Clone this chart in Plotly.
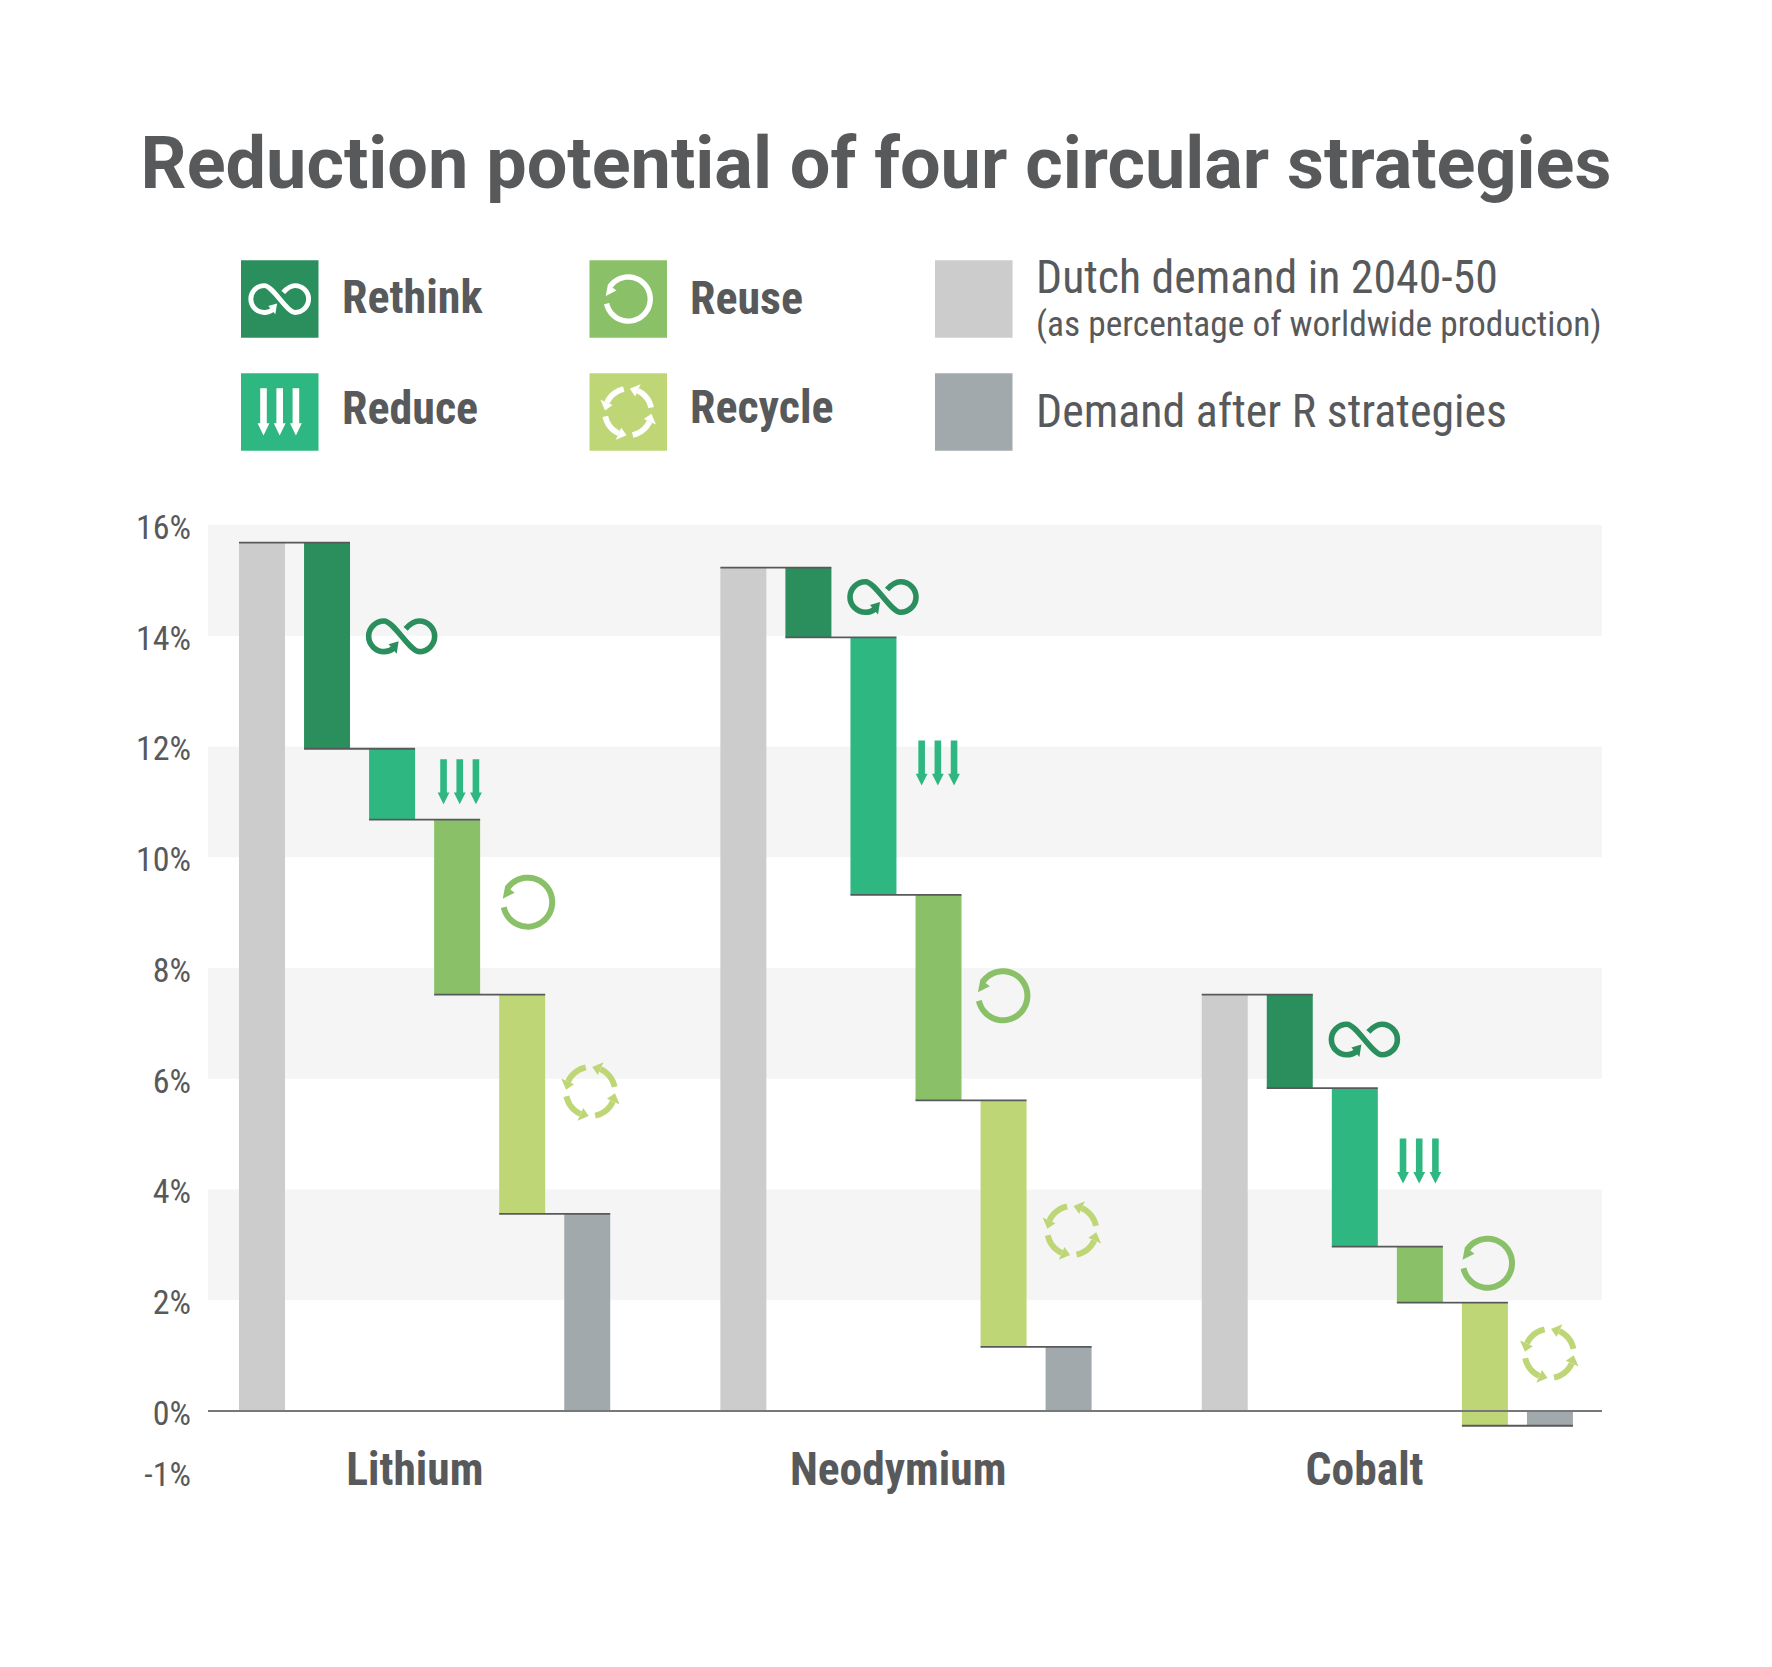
import numpy as np
import plotly.graph_objects as go

# values, percent of worldwide production
materials = ["Lithium", "Neodymium", "Cobalt"]
demand = [15.68, 15.23, 7.52]
rethink = [3.72, 1.26, 1.69]
reduce_ = [1.28, 4.65, 2.86]
reuse = [3.16, 3.71, 1.01]
recycle = [3.96, 4.45, 2.225]
after = [3.56, 1.16, -0.265]

# where the little icons sit on the value axis
rethink_icon_y = [13.99, 14.70, 6.71]
reduce_icon_y = [11.36, 11.70, 4.51]
reuse_icon_y = [9.19, 7.50, 2.67]
recycle_icon_y = [5.77, 3.26, 1.04]

# the -1% label hangs a little below its true spot in the original
y_ticks = [-1.1, 0, 2, 4, 6, 8, 10, 12, 14, 16]
y_tick_labels = ["-1%", "0%", "2%", "4%", "6%", "8%", "10%", "12%", "14%", "16%"]
bands = [(14, 16), (10, 12), (6, 8), (2, 4)]

DARK_GREEN = "#2a8f5d"
GREEN = "#2eb780"
MID_GREEN = "#8ac168"
LIME = "#bfd677"
LIGHT_GREY = "#cccccc"
SLATE = "#a2a9ac"
TEXT = "#58595b"
COND = "Roboto Condensed"

# page pixels; the browser puts the plot 8px in from the corner
PAGE = 8
W, H = 1772 - 2 * PAGE, 1667 - 2 * PAGE
LEFT, RIGHT, TOP, BOTTOM = 208, 1602, 524.7, 1471.9


def px_x(x):
    return (x - LEFT) / (RIGHT - LEFT)


def px_y(y):
    return (BOTTOM - y) / (BOTTOM - TOP)


group_start = [0, 7.4, 14.8]
label_x = [2.35, 9.78, 16.95]
bar_width = 0.707
# icon distance from its bar, in slots
rethink_dx = [1.147, 1.147, 1.147]
reduce_dx = [1.04, 0.99, 0.99]
reuse_dx = [1.085, 0.99, 1.04]
recycle_dx = [1.05, 1.05, 0.99]


def slot(group, i):
    return group_start[group] + i


fig = go.Figure()

# waterfall: each step hangs from the level left by the one before
steps = [rethink, reduce_, reuse, recycle]
colors = [DARK_GREEN, GREEN, MID_GREEN, LIME]
names = ["Rethink", "Reduce", "Reuse", "Recycle"]

fig.add_bar(x=[slot(g, 0) for g in range(3)], y=demand, width=bar_width,
            marker=dict(color=LIGHT_GREY, line_width=0), name="Dutch demand")

levels = [list(demand)]
for k, step in enumerate(steps):
    top = levels[-1]
    low = [t - s for t, s in zip(top, step)]
    fig.add_bar(x=[slot(g, k + 1) for g in range(3)], y=step, base=low, width=bar_width,
                marker=dict(color=colors[k], line_width=0), name=names[k])
    levels.append(low)

fig.add_bar(x=[slot(g, 5) for g in range(3)], y=after, width=bar_width,
            marker=dict(color=SLATE, line_width=0), name="Demand after R strategies")

# connectors
cx, cy = [], []
for g in range(3):
    for k, level in enumerate(levels):
        cx += [slot(g, k) - bar_width / 2, slot(g, k + 1) + bar_width / 2, None]
        cy += [level[g], level[g], None]
fig.add_scatter(x=cx, y=cy, mode="lines", line=dict(color=TEXT, width=1.8), hoverinfo="skip")

for lo, hi in bands:
    fig.add_shape(type="rect", xref="paper", yref="y", x0=0, x1=1, y0=lo, y1=hi,
                  fillcolor="#f5f5f5", line_width=0, layer="below")
fig.add_shape(type="line", xref="paper", yref="y", x0=0, x1=1, y0=0, y1=0,
              line=dict(color="#77787a", width=2))


def arc(r, a0, a1, n=24):
    t = np.radians(np.linspace(a0, a1, n))
    return [(r * np.cos(v), r * np.sin(v)) for v in t]


def to_path(points, close=False):
    s = "M" + " L".join(f"{x:.2f},{y:.2f}" for x, y in points)
    return s + (" Z" if close else "")


def curve(segments, s):
    out = ""
    for cmd, pts in segments:
        out += cmd + " ".join(f"{x * s:.2f},{y * s:.2f}" for x, y in pts) + " "
    return out


def icon(kind, color, x, y, xref, yref, s=1.0, tall=1.0):
    strokes, fills = [], []
    width = 6 * s
    if kind == "rethink":
        width = 5.6 * s
        strokes.append(curve([
            ("M", [(4, 7.5)]),
            ("C", [(8, 12), (12, 15.3), (17.5, 15.3)]),
            ("C", [(26, 15.3), (33, 8.5), (33, 0)]),
            ("C", [(33, -8.5), (26, -15.3), (17.5, -15.3)]),
            ("C", [(8, -15.3), (-8, 15.3), (-17.5, 15.3)]),
            ("C", [(-26, 15.3), (-33, 8.5), (-33, 0)]),
            ("C", [(-33, -8.5), (-26, -15.3), (-17.5, -15.3)]),
            ("C", [(-13.5, -15.3), (-10.5, -14), (-8, -12)]),
        ], s))
        fills.append(to_path([(-3 * s, -5 * s), (-13 * s, -8 * s), (-5 * s, -17.5 * s)], True))
    elif kind == "reduce":
        for dx in (-16.2, 0, 16.2):
            fills.append(to_path([(dx - 3.3, 22.7 * tall), (dx + 3.3, 22.7 * tall), (dx + 3.3, -10.6 * tall),
                                  (dx + 5.9, -10.6 * tall), (dx, -22.3 * tall), (dx - 5.9, -10.6 * tall),
                                  (dx - 3.3, -10.6 * tall)], True))
    elif kind == "reuse":
        strokes.append(to_path([(p * s, q * s) for p, q in arc(24.5, 192, 505, 60)]))
        fills.append(to_path([(-25 * s, 3.5 * s), (-22.5 * s, 16.5 * s), (-13 * s, 9.5 * s)], True))
    elif kind == "recycle":
        for rot in (0, 90, 180, 270):
            strokes.append(to_path([(p * s, q * s) for p, q in arc(24.5, 11 + rot, 66 + rot, 14)]))
            a, b = np.radians(86 + rot), np.radians(66 + rot)
            fills.append(to_path([(24.5 * s * np.cos(a), 24.5 * s * np.sin(a)),
                                  (18 * s * np.cos(b), 18 * s * np.sin(b)),
                                  (32 * s * np.cos(b), 32 * s * np.sin(b))], True))
    for p in strokes:
        fig.add_shape(type="path", path=p, xref=xref, yref=yref, xsizemode="pixel", ysizemode="pixel",
                      xanchor=x, yanchor=y, line=dict(color=color, width=width),
                      fillcolor="rgba(0,0,0,0)")
    for p in fills:
        fig.add_shape(type="path", path=p, xref=xref, yref=yref, xsizemode="pixel", ysizemode="pixel",
                      xanchor=x, yanchor=y, line_width=0, fillcolor=color)


for g in range(3):
    icon("rethink", DARK_GREEN, slot(g, 1) + rethink_dx[g], rethink_icon_y[g], "x", "y")
    icon("reduce", GREEN, slot(g, 2) + reduce_dx[g], reduce_icon_y[g], "x", "y")
    icon("reuse", MID_GREEN, slot(g, 3) + reuse_dx[g], reuse_icon_y[g], "x", "y")
    icon("recycle", LIME, slot(g, 4) + recycle_dx[g], recycle_icon_y[g], "x", "y")

# legend is drawn by hand, squares + white glyphs
legend_squares = [
    (241, 260, DARK_GREEN, "rethink"), (241, 373, GREEN, "reduce"),
    (589.5, 260, MID_GREEN, "reuse"), (589.5, 373, LIME, "recycle"),
    (935, 260, LIGHT_GREY, None), (935, 373, SLATE, None),
]
for sx, sy, col, kind in legend_squares:
    fig.add_shape(type="rect", xref="paper", yref="paper", x0=px_x(sx), x1=px_x(sx + 77.5),
                  y0=px_y(sy), y1=px_y(sy + 77.5), fillcolor=col, line_width=0)
    if kind:
        scale = {"rethink": 0.875, "reduce": 1.0, "reuse": 0.9, "recycle": 0.95}[kind]
        icon(kind, "white", px_x(sx + 38.7), px_y(sy + 38.7), "paper", "paper", scale, 1.05)


def label(text, x, y, size, bold=False):
    fig.add_annotation(text=text, xref="paper", yref="paper", x=px_x(x), y=px_y(y), showarrow=False,
                       xanchor="left", yanchor="middle", align="left", xshift=-2,
                       font=dict(family=COND, size=size, color=TEXT, weight=700 if bold else 400))


label("Rethink", 342, 297, 46, True)
label("Reduce", 342, 408, 46, True)
label("Reuse", 690, 298, 46, True)
label("Recycle", 690, 407, 46, True)
label("Dutch demand in 2040-50", 1036, 277, 45.8)
label("(as percentage of worldwide production)", 1036, 324, 35.4)
label("Demand after R strategies", 1036, 411, 45.9)

fig.update_layout(
    width=W, height=H, autosize=False,
    margin=dict(l=LEFT - PAGE, r=W + PAGE - RIGHT, t=TOP - PAGE, b=H + PAGE - BOTTOM),
    paper_bgcolor="white", plot_bgcolor="white", showlegend=False, barmode="overlay",
    title=dict(text="Reduction potential of four circular strategies", x=(876 - PAGE) / W, xanchor="center",
               y=1 - (163 - PAGE) / H, yanchor="middle", xref="container", yref="container",
               font=dict(family="Roboto", size=72, color=TEXT, weight=700)),
    xaxis=dict(range=[-0.83, 20.60], showgrid=False, zeroline=False, showline=False, ticks="",
               tickmode="array", tickvals=label_x, ticktext=materials, anchor="free",
               position=px_y(1438),
               tickfont=dict(family=COND, size=45.5, color=TEXT, weight=700)),
    yaxis=dict(range=[-1.1, 16], showgrid=False, zeroline=False, showline=False, ticks="",
               tickmode="array", tickvals=y_ticks, ticktext=y_tick_labels, ticklabelstandoff=16,
               ticklabelshift=2, tickfont=dict(family=COND, size=34, color=TEXT)),
)

fig.write_html("out.html")
